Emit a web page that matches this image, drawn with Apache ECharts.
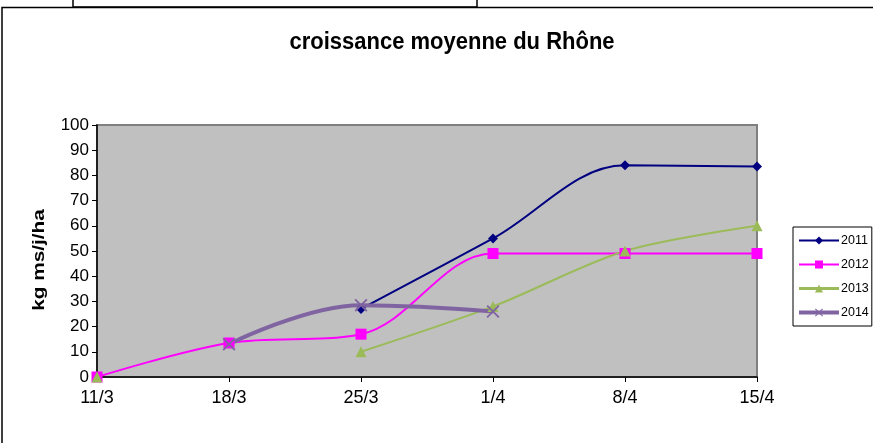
<!DOCTYPE html>
<html><head><meta charset="utf-8">
<script src="https://cdn.jsdelivr.net/npm/echarts@6/dist/echarts.min.js"></script>
<style>html,body{margin:0;padding:0;background:#fff}#c{width:873px;height:443px}</style>
</head><body><div id="c"></div>
<script>
const categories = ['11/3','18/3','25/3','1/4','8/4','15/4'];
const s2011 = [null, null, 27, 55, 84, 83.5];
const s2012 = [0, 13.5, 17, 49, 49, 49];
const s2013 = [0, null, 10, 28, 50, 60];
const s2014 = [null, 13, 28.5, 26, null, null];
const seriesNames = ['2011','2012','2013','2014'];
const titleText = 'croissance moyenne du Rhône';
const yName = 'kg ms/j/ha';

const lineWidths = [2, 2, 3, 4];
const xSym = 'path://M0,1 L1,0 L5,4 L9,0 L10,1 L6,5 L10,9 L9,10 L5,6 L1,10 L0,9 L4,5 Z';
const font = 'Liberation Sans, Arial, sans-serif';
const chart = echarts.init(document.getElementById('c'));
chart.setOption({
  animation: false,
  graphic: [
    {type: 'rect', shape: {x: 73, y: -2, width: 404, height: 9}, style: {fill: 'none', stroke: '#000', lineWidth: 1.5}},
    {type: 'polyline', shape: {points: [[2, 443], [2, 7.5], [873, 7.5]]}, style: {fill: 'none', stroke: '#000', lineWidth: 1.5}},
    {type: 'text', x: 452, y: 31, scaleY: 1.08, style: {text: titleText, font: 'bold 22px ' + font, fill: '#000', textAlign: 'center', textVerticalAlign: 'top'}},
    {type: 'text', x: 40, y: 260, rotation: Math.PI/2, scaleX: 1.3, style: {text: yName, font: 'bold 16px ' + font, fill: '#000', textAlign: 'center', textVerticalAlign: 'middle'}}
  ],
  legend: {orient: 'vertical', left: 793, top: 227,
    data: seriesNames.map((n, i) => ({name: n, lineStyle: {width: lineWidths[i]}})),
    borderColor: '#000', borderWidth: 1, padding: [7, 3, 7, 4], itemGap: 11, itemWidth: 40, itemHeight: 10,
    textStyle: {fontFamily: font, fontSize: 12.5, color: '#000', padding: [0, 0, 0, -3]}},
  grid: {left: 97, right: 116, top: 125, bottom: 66, show: true, backgroundColor: '#C0C0C0', borderColor: '#808080', borderWidth: 2},
  xAxis: {type: 'category', data: categories, boundaryGap: false,
    axisLine: {lineStyle: {color: '#000', width: 1.5}},
    axisTick: {show: true, length: 5, lineStyle: {color: '#000'}},
    axisLabel: {fontFamily: font, fontSize: 18, color: '#000', margin: 12},
    splitLine: {show: false}},
  yAxis: {type: 'value', min: 0, max: 100, interval: 10,
    axisLine: {show: true, lineStyle: {color: '#000', width: 1.5}},
    axisTick: {show: true, length: 5, lineStyle: {color: '#000'}},
    axisLabel: {fontFamily: font, fontSize: 17, color: '#000', margin: 8},
    splitLine: {show: false}},
  series: [
    {name: '2011', type: 'line', data: s2011, smooth: 0.35, symbol: 'diamond', symbolSize: 10,
      lineStyle: {color: '#000080', width: 2}, itemStyle: {color: '#000080'}},
    {name: '2012', type: 'line', data: s2012, smooth: 0.35, symbol: 'rect', symbolSize: 11,
      lineStyle: {color: '#FF00FF', width: 2}, itemStyle: {color: '#FF00FF'}},
    {name: '2013', type: 'line', data: s2013, smooth: 0.3, symbol: 'triangle', symbolSize: 11,
      lineStyle: {color: '#9BBB59', width: 2}, itemStyle: {color: '#9BBB59'}},
    {name: '2014', type: 'line', data: s2014, smooth: 0.4, symbol: xSym, symbolSize: 13,
      lineStyle: {color: '#8064A2', width: 4}, itemStyle: {color: '#8064A2'}}
  ]
});
</script></body></html>
